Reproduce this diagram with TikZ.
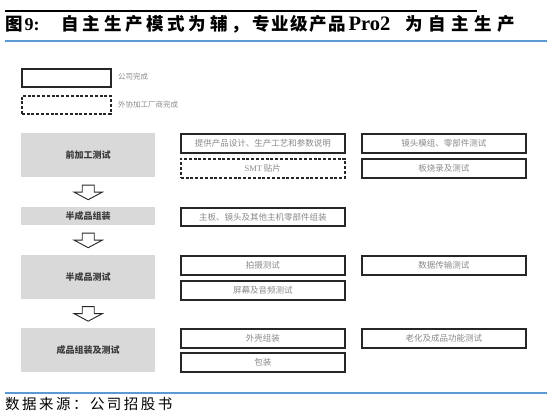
\documentclass[tikz,border=0pt]{standalone}
\usepackage{fontspec}
\setmainfont{Liberation Serif}
\newfontfamily\cjk{Noto Sans CJK SC}
\newfontfamily\titlelat{Liberation Serif}
\newfontfamily\footcjk{Noto Sans CJK SC}[LetterSpace=17]
\usetikzlibrary{calc}
\definecolor{blueline}{HTML}{5B9BD5}
\definecolor{boxline}{HTML}{262626}
\definecolor{txtgray}{HTML}{8A8A8A}
\definecolor{stagefill}{HTML}{D9D9D9}
\definecolor{stagetxt}{HTML}{3A3A3A}
\tikzset{
 box/.style={draw=boxline, line width=1.6pt, fill=white, anchor=north west, minimum width=164pt, minimum height=19pt, inner sep=0pt, font=\cjk\fontsize{8.5}{10}\selectfont, text=txtgray},
 dbox/.style={box, dash pattern=on 3pt off 1.8pt},
 stage/.style={fill=stagefill, anchor=north west, minimum width=134pt, inner sep=0pt, font=\cjk\bfseries\fontsize{9}{11}\selectfont, text=stagetxt},
 legtxt/.style={anchor=west, inner sep=0pt, font=\cjk\fontsize{7.5}{9}\selectfont, text=txtgray},
 blockarr/.style={draw=boxline, line width=0.9pt, fill=white, line join=miter},
 rule/.style={line width=1.4pt},
}
\makeatletter
\newcommand\pitchbox[2]{\@tfor\pch:=#2\do{\makebox[#1][l]{\pch}}}
\makeatother
\newcommand\tat[2]{\makebox[0pt][l]{\hspace{#1}#2}}
\begin{document}
\begin{tikzpicture}[x=1pt,y=-1pt]
\useasboundingbox (0,0) rectangle (552,419);
% header
\coordinate (bl0) at (5,11); \coordinate (bl1) at (477,11);
\draw[rule, black] (bl0) -- (bl1);
\node[anchor=west, inner sep=0pt] (title) at (5,24) {\cjk\bfseries\fontsize{17.5}{20}\selectfont
  \tat{0pt}{图}\tat{19pt}{\titlelat\bfseries\fontsize{18}{20}\selectfont 9:}\tat{56pt}{\pitchbox{21.2pt}{自主生产模式为辅，}}\tat{247pt}{\pitchbox{18.9pt}{专业级产品}}\tat{343pt}{\titlelat\bfseries\fontsize{20.5}{22}\selectfont Pro2}\tat{400pt}{\pitchbox{23pt}{为自主生产}}\hspace{510pt}};
\coordinate (tl0) at (5,41); \coordinate (tl1) at (547,41);
\draw[rule, blueline] (tl0) -- (tl1);
% legend
\node[box, minimum width=89pt, minimum height=18pt] (legsolid) at (21,68) {};
\node[legtxt] (legsolidtxt) at (118,77) {公司完成};
\node[dbox, minimum width=89pt, minimum height=18pt] (legdash) at (21,95) {};
\node[legtxt] (legdashtxt) at (118,104.5) {外协加工厂商完成};
% stages
\node[stage, minimum height=44pt] (g1) at (21,133) {前加工测试};
\node[stage, minimum height=18pt] (g2) at (21,207) {半成品组装};
\node[stage, minimum height=44pt] (g3) at (21,255) {半成品测试};
\node[stage, minimum height=44pt] (g4) at (21,328) {成品组装及测试};
% boxes
\node[box] (b11) at (180,133) {提供产品设计、生产工艺和参数说明};
\node[box] (b12) at (361,133) {镜头模组、零部件测试};
\node[dbox] (b21) at (180,158) {{\rmfamily SMT} 贴片};
\node[box] (b22) at (361,158) {板烧录及测试};
\node[box, minimum height=18pt] (c11) at (180,207) {主板、镜头及其他主机零部件组装};
\node[box] (d11) at (180,255) {拍摄测试};
\node[box] (d12) at (361,255) {数据传输测试};
\node[box] (d21) at (180,280) {屏幕及音频测试};
\node[box] (e11) at (180,328) {外壳组装};
\node[box] (e12) at (361,328) {老化及成品功能测试};
\node[box] (e21) at (180,352) {包装};
% block arrows
\foreach \a/\b [count=\i] in {g1/g2, g2/g3, g3/g4}{
  \coordinate (arr\i) at ($(\a.south)!0.5!(\b.north)$);
  \draw[blockarr] ($(arr\i)+(-6,-7)$) -- ($(arr\i)+(6,-7)$) -- ($(arr\i)+(6,0)$) -- ($(arr\i)+(14,0)$)
     -- ($(arr\i)+(0,7.5)$) -- ($(arr\i)+(-14,0)$) -- ($(arr\i)+(-6,0)$) -- cycle;
}
% footer
\coordinate (fl0) at (5,393); \coordinate (fl1) at (547,393);
\draw[rule, blueline] (fl0) -- (fl1);
\node[anchor=west, inner sep=0pt] (src) at (5,404) {\footcjk\fontsize{14.5}{17}\selectfont 数据来源：公司招股书};
\end{tikzpicture}
\end{document}
